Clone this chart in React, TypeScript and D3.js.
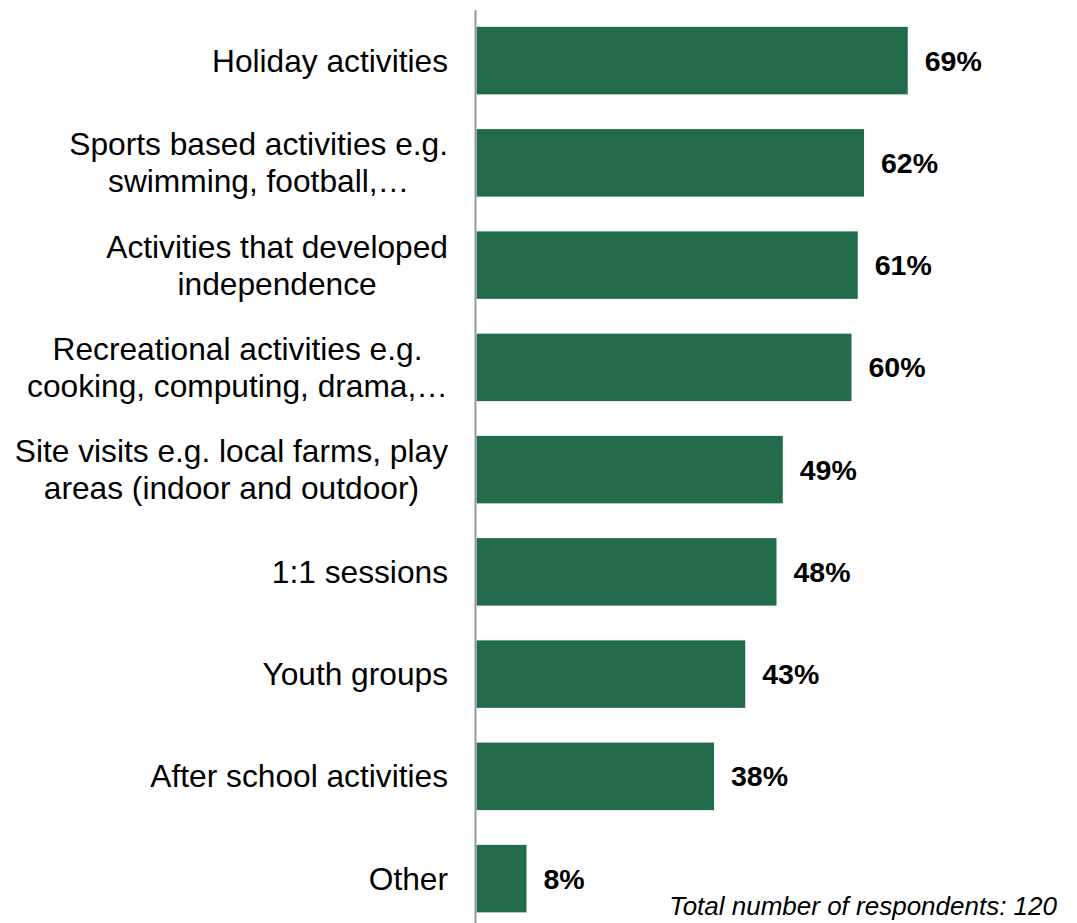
import React, { useEffect, useRef } from "react";
import * as d3 from "d3";

const categories: string[] = [
  "Holiday activities",
  "Sports based activities e.g.\nswimming, football,…",
  "Activities that developed\nindependence",
  "Recreational activities e.g.\ncooking, computing, drama,…",
  "Site visits e.g. local farms, play\nareas (indoor and outdoor)",
  "1:1 sessions",
  "Youth groups",
  "After school activities",
  "Other",
];
const values: number[] = [69, 62, 61, 60, 49, 48, 43, 38, 8];
const footnote = "Total number of respondents: 120";

const W = 1077;
const H = 923;
const FONT = "'Liberation Sans', Arial, Helvetica, sans-serif";
const GREEN = "#226b4b";

export default function App() {
  const ref = useRef<SVGSVGElement>(null);

  useEffect(() => {
    const svg = d3.select(ref.current);
    svg.selectAll("*").remove();

    const x = d3.scaleLinear().domain([0, 100]).range([476.5, 476.5 + 625]);
    const y = d3
      .scaleBand<string>()
      .domain(categories)
      .range([9.5, 9.5 + 102.25 * 9])
      .paddingInner(0.34)
      .paddingOuter(0.17);

    const data = categories.map((c, i) => ({ c, v: values[i] }));

    // bars
    svg
      .append("g")
      .selectAll("rect")
      .data(data)
      .join("rect")
      .attr("x", x(0))
      .attr("y", (d) => y(d.c)!)
      .attr("width", (d) => x(d.v) - x(0))
      .attr("height", y.bandwidth())
      .attr("fill", GREEN);

    // axis line
    svg
      .append("line")
      .attr("x1", 475.5)
      .attr("x2", 475.5)
      .attr("y1", 10)
      .attr("y2", H)
      .attr("stroke", "#999999")
      .attr("stroke-width", 2);

    // value labels
    svg
      .append("g")
      .selectAll("text")
      .data(data)
      .join("text")
      .attr("x", (d) => x(d.v) + 17)
      .attr("y", (d) => y(d.c)! + y.bandwidth() / 2)
      .attr("dy", "0.35em")
      .attr("font-family", FONT)
      .attr("font-weight", "bold")
      .attr("font-size", 28.5)
      .attr("fill", "#000")
      .text((d) => `${d.v}%`);

    // category labels
    const labelRight = 448;
    const lineH = 37;
    const lg = svg.append("g");
    data.forEach((d) => {
      const lines = d.c.split("\n");
      const cy = y(d.c)! + y.bandwidth() / 2;
      const g = lg.append("g");
      const texts = lines.map((ln, j) =>
        g
          .append("text")
          .attr("y", cy + (j - (lines.length - 1) / 2) * lineH)
          .attr("dy", "0.35em")
          .attr("font-family", FONT)
          .attr("font-size", 31.7)
          .attr("fill", "#000")
          .text(ln)
      );
      if (lines.length === 1) {
        texts[0].attr("x", labelRight).attr("text-anchor", "end");
      } else {
        const maxW = d3.max(texts, (t) => (t.node() as SVGTextElement).getComputedTextLength()) || 0;
        const cx = labelRight - maxW / 2;
        texts.forEach((t) => t.attr("x", cx).attr("text-anchor", "middle"));
      }
    });

    // footnote
    svg
      .append("text")
      .attr("x", 1057)
      .attr("y", 915)
      .attr("text-anchor", "end")
      .attr("font-family", FONT)
      .attr("font-style", "italic")
      .attr("font-size", 26)
      .attr("fill", "#000")
      .text(footnote);
  }, []);

  return (
    <svg
      ref={ref}
      width={W}
      height={H}
      style={{ position: "absolute", left: 0, top: 0, background: "#fff" }}
    />
  );
}
